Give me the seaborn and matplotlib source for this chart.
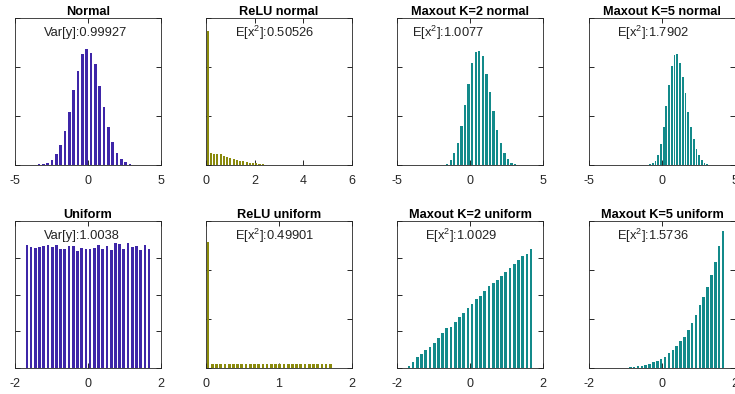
import numpy as np
import matplotlib
matplotlib.use("Agg")
import matplotlib.pyplot as plt
import seaborn as sns

# --- data (30 bins per panel) ---
titles = ["Normal", "ReLU normal", "Maxout K=2 normal", "Maxout K=5 normal",
          "Uniform", "ReLU uniform", "Maxout K=2 uniform", "Maxout K=5 uniform"]
notes = ["Var[y]:0.99927", "E[x$^2$]:0.50526", "E[x$^2$]:1.0077", "E[x$^2$]:1.7902",
         "Var[y]:1.0038", "E[x$^2$]:0.49901", "E[x$^2$]:1.0029", "E[x$^2$]:1.5736"]

# bin ranges (first edge, last edge)
bin_ranges = [(-4.40, 4.51), (0.0, 4.0), (-2.915, 4.435), (-1.29, 4.32),
              (-1.732, 1.732), (0.0, 1.732), (-1.732, 1.732), (-1.453, 1.727)]

normal_counts = [1, 2, 3, 6, 12, 24, 47, 108, 199, 351, 544, 764, 959, 1135, 1186,
                 1145, 1027, 811, 595, 392, 236, 125, 64, 27, 10, 5, 2, 1, 0, 1]
relu_normal_counts = [5480, 490, 463, 449, 435, 381, 326, 299, 245, 204, 177, 150, 122, 95, 82,
                      68, 41, 27, 14, 10, 6, 4, 3, 2, 1, 1, 1, 0, 0, 1]
maxout2_normal_counts = [1, 1, 2, 3, 5, 10, 54, 122, 224, 401, 616, 826, 1037, 1153, 1163,
                         1109, 929, 741, 554, 357, 224, 119, 61, 24, 10, 4, 2, 1, 0, 1]
maxout5_normal_counts = [1, 2, 6, 17, 41, 102, 214, 388, 599, 816, 1010, 1122, 1132, 1044, 898,
                         738, 541, 388, 269, 160, 102, 51, 24, 7, 4, 2, 1, 1, 0, 1]
uniform_counts = [336, 329, 327, 329, 333, 334, 329, 334, 325, 324, 331, 332, 318, 327, 325,
                  325, 326, 334, 325, 332, 322, 340, 338, 323, 340, 330, 331, 322, 336, 325]
relu_uniform_counts = [5160, 168, 166, 167, 165, 168, 167, 166, 168, 167, 166, 167, 165, 168, 166,
                       167, 168, 166, 167, 165, 167, 168, 166, 167, 168, 166, 167, 165, 168, 167]
maxout2_uniform_counts = [10, 33, 58, 78, 98, 116, 138, 162, 191, 215, 222, 249, 276, 298, 325,
                          349, 375, 393, 418, 444, 462, 480, 498, 520, 545, 567, 589, 611, 622, 649]
maxout5_uniform_counts = [1, 1, 2, 3, 5, 8, 12, 17, 24, 34, 44, 58, 75, 92, 116,
                          150, 184, 222, 273, 320, 389, 457, 545, 638, 723, 825, 944, 1081, 1241, 1398]

all_counts = [normal_counts, relu_normal_counts, maxout2_normal_counts, maxout5_normal_counts,
              uniform_counts, relu_uniform_counts, maxout2_uniform_counts, maxout5_uniform_counts]

xlims = [(-5, 5), (0, 6), (-5, 5), (-5, 5), (-2, 2), (0, 2), (-2, 2), (-2, 2)]
xticks = [[-5, 0, 5], [0, 2, 4, 6], [-5, 0, 5], [-5, 0, 5],
          [-2, 0, 2], [0, 1, 2], [-2, 0, 2], [-2, 0, 2]]
ylims = [1500, 6000, 1500, 1500, 400, 6000, 800, 1500]
ysteps = [500, 2000, 500, 500, 100, 2000, 200, 500]

blue, olive, teal = "#3E26A8", "#8A8A0C", "#138A8A"
colors = [blue, olive, teal, teal, blue, olive, teal, teal]
note_x = [0.2, 0.2, 0.1, 0.19, 0.2, 0.2, 0.19, 0.19]

sns.set_theme(style="white", rc={"xtick.bottom": True, "xtick.top": True,
                                 "ytick.left": True, "ytick.right": True})
plt.rcParams["font.family"] = ["Liberation Sans", "DejaVu Sans"]
plt.rcParams["mathtext.default"] = "regular"
plt.rcParams["axes.unicode_minus"] = False

W, H = 735, 394
fig = plt.figure(figsize=(W / 100, H / 100), dpi=100)

lefts = [15, 206, 397, 589]
tops = [18, 221]
aw, ah = 146, 147
edge = "#262626"

for i in range(8):
    r, c = divmod(i, 4)
    ax = fig.add_axes([lefts[c] / W, 1 - (tops[r] + ah) / H, aw / W, ah / H])
    counts = np.array(all_counts[i], dtype=float)
    lo, hi = bin_ranges[i]
    w = (hi - lo) / len(counts)
    centers = lo + w * (np.arange(len(counts)) + 0.5)
    sns.histplot(x=centers, weights=counts, bins=len(counts), binrange=(lo, hi),
                 shrink=0.65, color=colors[i], alpha=1, linewidth=0, ax=ax)
    ax.set_xlim(*xlims[i])
    ax.set_ylim(0, ylims[i])
    ax.set_xticks(xticks[i])
    ax.set_yticks(np.arange(0, ylims[i] + 1, ysteps[i]))
    ax.set_ylabel("")
    ax.set_xlabel("")
    ax.tick_params(axis="both", which="major", direction="in", length=3.5, width=0.7,
                   left=True, right=True, top=True, bottom=True,
                   labelleft=False, labelright=False, labeltop=False, labelbottom=True,
                   labelsize=9, pad=7, colors=edge)
    for s in ax.spines.values():
        s.set_color(edge)
        s.set_linewidth(0.6)
    ax.set_title(titles[i], fontsize=9.2, fontweight="bold", pad=2, color="black")
    ax.text(note_x[i], 0.9, notes[i], transform=ax.transAxes, ha="left", va="center",
            fontsize=9.3, color="#222222")

fig.savefig("out.png", dpi=100)
